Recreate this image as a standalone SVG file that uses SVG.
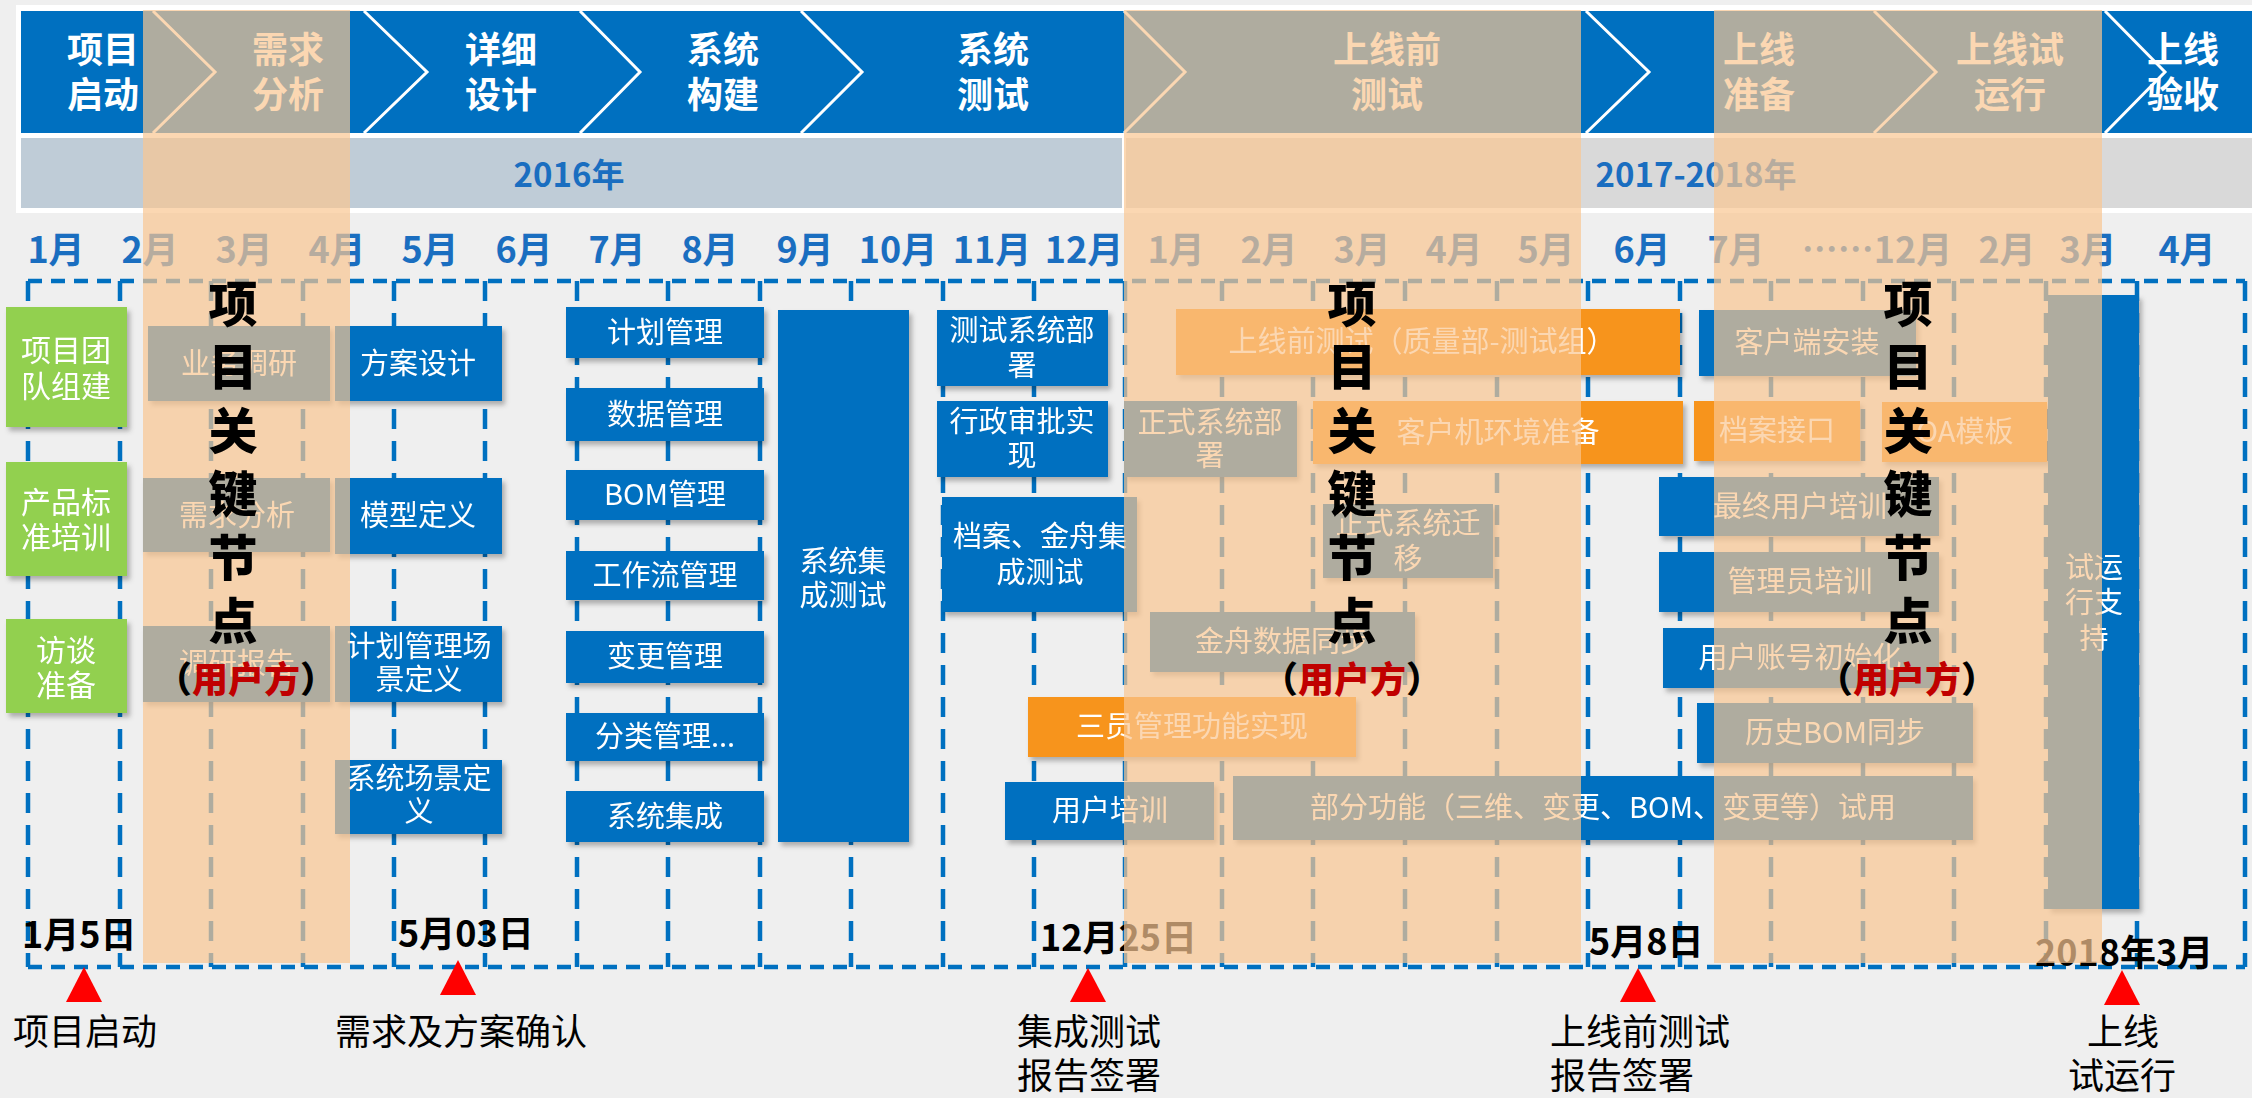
<svg xmlns="http://www.w3.org/2000/svg" width="2252" height="1098" viewBox="0 0 2252 1098">
<defs>
<style>
text{font-family:"Noto Sans CJK SC","Noto Sans",sans-serif}
.ph{font-size:36px;font-weight:bold;fill:#fff;text-anchor:middle}
.yr{font-size:33px;font-weight:bold;fill:#1a6ec0;text-anchor:middle}
.mo{font-size:36px;font-weight:bold;fill:#1a6ec0;text-anchor:middle}
.bt{font-size:29px;fill:#fff;text-anchor:middle}
.gt{font-size:30px;fill:#fff;text-anchor:middle}
.blue{fill:#0070c0}
.green{fill:#92d050}
.orange{fill:#f7941d}
.gv{stroke:#0070c0;stroke-width:4.5;stroke-dasharray:20 12;fill:none}
.gh{stroke:#0070c0;stroke-width:4.5;stroke-dasharray:14 9;fill:none}
.dt{font-size:36px;font-weight:bold;fill:#000}
.ov{fill:#f9c692;opacity:0.7}
.kn{font-size:49px;font-weight:900;fill:#000;text-anchor:middle}
.kp{font-size:36px;font-weight:900;fill:#000;text-anchor:middle}
.red{fill:#c00000}
.ms{font-size:36px;fill:#000}
.tri{fill:#ff0000}
.chev{stroke:#fff;stroke-width:3;fill:none}
</style>
<filter id="sh" x="-10%" y="-10%" width="130%" height="140%">
<feDropShadow dx="3" dy="4" stdDeviation="2.5" flood-color="#000" flood-opacity="0.28"/>
</filter>
</defs>

<rect x="0" y="0" width="2252" height="1098" fill="#efefef"/>

<g id="banner">
<rect x="16" y="5" width="2236" height="208" fill="#fff"/>
<rect x="21" y="11" width="2231" height="122" class="blue"/>
<polyline class="chev" points="153,11 215,72 153,133"/>
<polyline class="chev" points="364,11 427,72 364,133"/>
<polyline class="chev" points="580,11 640,72 580,133"/>
<polyline class="chev" points="801,11 862,72 801,133"/>
<polyline class="chev" points="1124,11 1185,72 1124,133"/>
<polyline class="chev" points="1586,11 1649,72 1586,133"/>
<polyline class="chev" points="1874,11 1936,72 1874,133"/>
<polyline class="chev" points="2105,11 2165,72 2105,133"/>
<text class="ph" x="103" y="63">项目</text><text class="ph" x="103" y="108">启动</text>
<text class="ph" x="288" y="63">需求</text><text class="ph" x="288" y="108">分析</text>
<text class="ph" x="501" y="63">详细</text><text class="ph" x="501" y="108">设计</text>
<text class="ph" x="723" y="63">系统</text><text class="ph" x="723" y="108">构建</text>
<text class="ph" x="993" y="63">系统</text><text class="ph" x="993" y="108">测试</text>
<text class="ph" x="1387" y="63">上线前</text><text class="ph" x="1387" y="108">测试</text>
<text class="ph" x="1759" y="63">上线</text><text class="ph" x="1759" y="108">准备</text>
<text class="ph" x="2010" y="63">上线试</text><text class="ph" x="2010" y="108">运行</text>
<text class="ph" x="2183" y="63">上线</text><text class="ph" x="2183" y="108">验收</text>
</g>

<g id="years">
<rect x="21" y="138" width="1101" height="70" fill="#bfccd7"/>
<rect x="1126" y="138" width="1126" height="70" fill="#d9d9d9"/>
<text class="yr" x="569" y="187">2016年</text>
<text class="yr" x="1696" y="187">2017-2018年</text>
</g>

<g id="months">
<text class="mo" x="56" y="263">1月</text>
<text class="mo" x="150" y="263">2月</text>
<text class="mo" x="244" y="263">3月</text>
<text class="mo" x="337" y="263">4月</text>
<text class="mo" x="430" y="263">5月</text>
<text class="mo" x="524" y="263">6月</text>
<text class="mo" x="617" y="263">7月</text>
<text class="mo" x="710" y="263">8月</text>
<text class="mo" x="805" y="263">9月</text>
<text class="mo" x="898" y="263">10月</text>
<text class="mo" x="992" y="263">11月</text>
<text class="mo" x="1084" y="263">12月</text>
<text class="mo" x="1176" y="263">1月</text>
<text class="mo" x="1269" y="263">2月</text>
<text class="mo" x="1362" y="263">3月</text>
<text class="mo" x="1454" y="263">4月</text>
<text class="mo" x="1546" y="263">5月</text>
<text class="mo" x="1642" y="263">6月</text>
<text class="mo" x="1736" y="263">7月</text>
<text class="mo" x="1877" y="263">……12月</text>
<text class="mo" x="2007" y="263">2月</text>
<text class="mo" x="2088" y="263">3月</text>
<text class="mo" x="2187" y="263">4月</text>
</g>

<g id="grid">
<line class="gh" x1="28" y1="281" x2="2245" y2="281"/>
<line class="gh" x1="28" y1="967" x2="2245" y2="967"/>
<path class="gv" d="M28 281V967M120 281V967M211 281V967M303 281V967M394 281V967M485 281V967M577 281V967M668 281V967M760 281V967M851 281V967M943 281V967M1034 281V967M1125 281V967M1222 281V967M1313 281V967M1405 281V967M1497 281V967M1588 281V967M1680 281V967M1771 281V967M1863 281V967M1954 281V967M2046 281V967M2137 281V967M2245 281V967"/>
</g>

<g id="tasks" filter="url(#sh)">
<g id="n-team"><rect class="green" x="6" y="307" width="121" height="120"/><text class="gt" x="66" y="361">项目团</text><text class="gt" x="66" y="397">队组建</text></g>
<g id="n-train"><rect class="green" x="6" y="462" width="121" height="114"/><text class="gt" x="66" y="513">产品标</text><text class="gt" x="66" y="548">准培训</text></g>
<g id="n-interview"><rect class="green" x="6" y="619" width="121" height="94"/><text class="gt" x="66" y="661">访谈</text><text class="gt" x="66" y="696">准备</text></g>

<g id="n-research"><rect class="blue" x="148" y="326" width="182" height="75"/><text class="bt" x="239" y="374">业务调研</text></g>
<g id="n-req"><rect class="blue" x="143" y="478" width="187" height="74"/><text class="bt" x="237" y="526">需求分析</text></g>
<g id="n-report"><rect class="blue" x="143" y="626" width="187" height="76"/><text class="bt" x="237" y="674">调研报告</text></g>

<g id="n-design"><rect class="blue" x="335" y="326" width="167" height="75"/><text class="bt" x="418" y="374">方案设计</text></g>
<g id="n-model"><rect class="blue" x="335" y="478" width="167" height="76"/><text class="bt" x="418" y="526">模型定义</text></g>
<g id="n-planscene"><rect class="blue" x="335" y="626" width="167" height="76"/><text class="bt" x="419" y="657">计划管理场</text><text class="bt" x="419" y="690">景定义</text></g>
<g id="n-sysscene"><rect class="blue" x="335" y="760" width="167" height="74"/><text class="bt" x="419" y="789">系统场景定</text><text class="bt" x="419" y="822">义</text></g>

<g id="n-plan"><rect class="blue" x="566" y="307" width="198" height="51"/><text class="bt" x="665" y="343">计划管理</text></g>
<g id="n-data"><rect class="blue" x="566" y="388" width="198" height="53"/><text class="bt" x="665" y="425">数据管理</text></g>
<g id="n-bom"><rect class="blue" x="566" y="470" width="198" height="50"/><text class="bt" x="665" y="505">BOM管理</text></g>
<g id="n-wf"><rect class="blue" x="566" y="551" width="198" height="49"/><text class="bt" x="665" y="586">工作流管理</text></g>
<g id="n-change"><rect class="blue" x="566" y="631" width="198" height="52"/><text class="bt" x="665" y="667">变更管理</text></g>
<g id="n-class"><rect class="blue" x="566" y="713" width="198" height="48"/><text class="bt" x="665" y="747">分类管理...</text></g>
<g id="n-integ"><rect class="blue" x="566" y="791" width="198" height="51"/><text class="bt" x="665" y="827">系统集成</text></g>

<g id="n-sit"><rect class="blue" x="778" y="310" width="131" height="532"/><text class="bt" x="843" y="572">系统集</text><text class="bt" x="843" y="606">成测试</text></g>

<g id="n-testdeploy"><rect class="blue" x="937" y="310" width="171" height="76"/><text class="bt" x="1022" y="341">测试系统部</text><text class="bt" x="1022" y="376">署</text></g>
<g id="n-admin"><rect class="blue" x="937" y="401" width="171" height="76"/><text class="bt" x="1022" y="432">行政审批实</text><text class="bt" x="1022" y="466">现</text></g>
<g id="n-archive"><rect class="blue" x="942" y="497" width="195" height="115"/><text class="bt" x="1040" y="547">档案、金舟集</text><text class="bt" x="1040" y="583">成测试</text></g>
<g id="n-proddeploy"><rect class="blue" x="1124" y="401" width="173" height="76"/><text class="bt" x="1210" y="433">正式系统部</text><text class="bt" x="1210" y="466">署</text></g>
<g id="n-jzsync"><rect class="blue" x="1150" y="612" width="265" height="60"/><text class="bt" x="1282" y="652">金舟数据同步</text></g>
<g id="n-usertrain"><rect class="blue" x="1005" y="782" width="209" height="58"/><text class="bt" x="1110" y="821">用户培训</text></g>
<g id="n-partial"><rect class="blue" x="1233" y="776" width="740" height="64"/><text class="bt" x="1603" y="818">部分功能（三维、变更、BOM、变更等）试用</text></g>
<g id="n-migrate"><rect class="blue" x="1323" y="504" width="170" height="74"/><text class="bt" x="1408" y="534">正式系统迁</text><text class="bt" x="1408" y="569">移</text></g>

<g id="n-pretest"><rect class="orange" x="1176" y="309" width="504" height="66"/><text class="bt" x="1422" y="352">上线前测试（质量部-测试组）</text></g>
<g id="n-clientenv"><rect class="orange" x="1313" y="401" width="370" height="63"/><text class="bt" x="1498" y="443">客户机环境准备</text></g>
<g id="n-3role"><rect class="orange" x="1028" y="697" width="328" height="60"/><text class="bt" x="1192" y="737">三员管理功能实现</text></g>

<g id="n-clientinst"><rect class="blue" x="1699" y="310" width="217" height="66"/><text class="bt" x="1807" y="353">客户端安装</text></g>
<g id="n-archif"><rect class="orange" x="1694" y="401" width="166" height="60"/><text class="bt" x="1777" y="441">档案接口</text></g>
<g id="n-oa"><rect class="orange" x="1882" y="402" width="165" height="60"/><text class="bt" x="1965" y="442">OA模板</text></g>
<g id="n-enduser"><rect class="blue" x="1659" y="477" width="280" height="59"/><text class="bt" x="1800" y="517">最终用户培训</text></g>
<g id="n-admintrain"><rect class="blue" x="1659" y="552" width="280" height="60"/><text class="bt" x="1800" y="592">管理员培训</text></g>
<g id="n-account"><rect class="blue" x="1663" y="628" width="276" height="60"/><text class="bt" x="1800" y="668">用户账号初始化</text></g>
<g id="n-histbom"><rect class="blue" x="1697" y="703" width="276" height="60"/><text class="bt" x="1835" y="743">历史BOM同步</text></g>
<g id="n-trial"><rect class="blue" x="2048" y="295" width="91" height="614"/><text class="bt" x="2094" y="578">试运</text><text class="bt" x="2094" y="613">行支</text><text class="bt" x="2094" y="649">持</text></g>
</g>

<g id="dates">
<text class="dt" x="22" y="948">1月5日</text>
<text class="dt" x="398" y="947">5月03日</text>
<text class="dt" x="1040" y="951">12月25日</text>
<text class="dt" x="1589" y="955">5月8日</text>
<text class="dt" x="2035" y="966">2018年3月</text>
</g>

<g id="highlights">
<rect class="ov" x="143" y="10" width="207" height="953"/>
<rect class="ov" x="1124" y="10" width="457" height="953"/>
<rect class="ov" x="1714" y="10" width="388" height="953"/>
</g>

<g id="key-node-1">
<text class="kn"><tspan x="233" y="322">项</tspan><tspan x="233" y="385">目</tspan><tspan x="233" y="449">关</tspan><tspan x="233" y="512">键</tspan><tspan x="233" y="576">节</tspan><tspan x="233" y="639">点</tspan></text>
<text class="kp" x="246" y="693">（<tspan class="red">用户方</tspan>）</text>
</g>
<g id="key-node-2">
<text class="kn"><tspan x="1352" y="322">项</tspan><tspan x="1352" y="385">目</tspan><tspan x="1352" y="449">关</tspan><tspan x="1352" y="512">键</tspan><tspan x="1352" y="576">节</tspan><tspan x="1352" y="639">点</tspan></text>
<text class="kp" x="1352" y="693">（<tspan class="red">用户方</tspan>）</text>
</g>
<g id="key-node-3">
<text class="kn"><tspan x="1908" y="322">项</tspan><tspan x="1908" y="385">目</tspan><tspan x="1908" y="449">关</tspan><tspan x="1908" y="512">键</tspan><tspan x="1908" y="576">节</tspan><tspan x="1908" y="639">点</tspan></text>
<text class="kp" x="1907" y="693">（<tspan class="red">用户方</tspan>）</text>
</g>

<g id="milestones">
<polygon class="tri" points="84,967 102,1002 66,1002"/>
<polygon class="tri" points="458,960 476,995 440,995"/>
<polygon class="tri" points="1088,968 1106,1002 1070,1002"/>
<polygon class="tri" points="1638,968 1656,1002 1620,1002"/>
<polygon class="tri" points="2122,970 2140,1005 2104,1005"/>
<text class="ms" x="85" y="1045" text-anchor="middle">项目启动</text>
<text class="ms" x="461" y="1045" text-anchor="middle">需求及方案确认</text>
<text class="ms" x="1017" y="1045">集成测试</text>
<text class="ms" x="1017" y="1089">报告签署</text>
<text class="ms" x="1550" y="1045">上线前测试</text>
<text class="ms" x="1550" y="1089">报告签署</text>
<text class="ms" x="2123" y="1045" text-anchor="middle">上线</text>
<text class="ms" x="2122" y="1089" text-anchor="middle">试运行</text>
</g>
</svg>
